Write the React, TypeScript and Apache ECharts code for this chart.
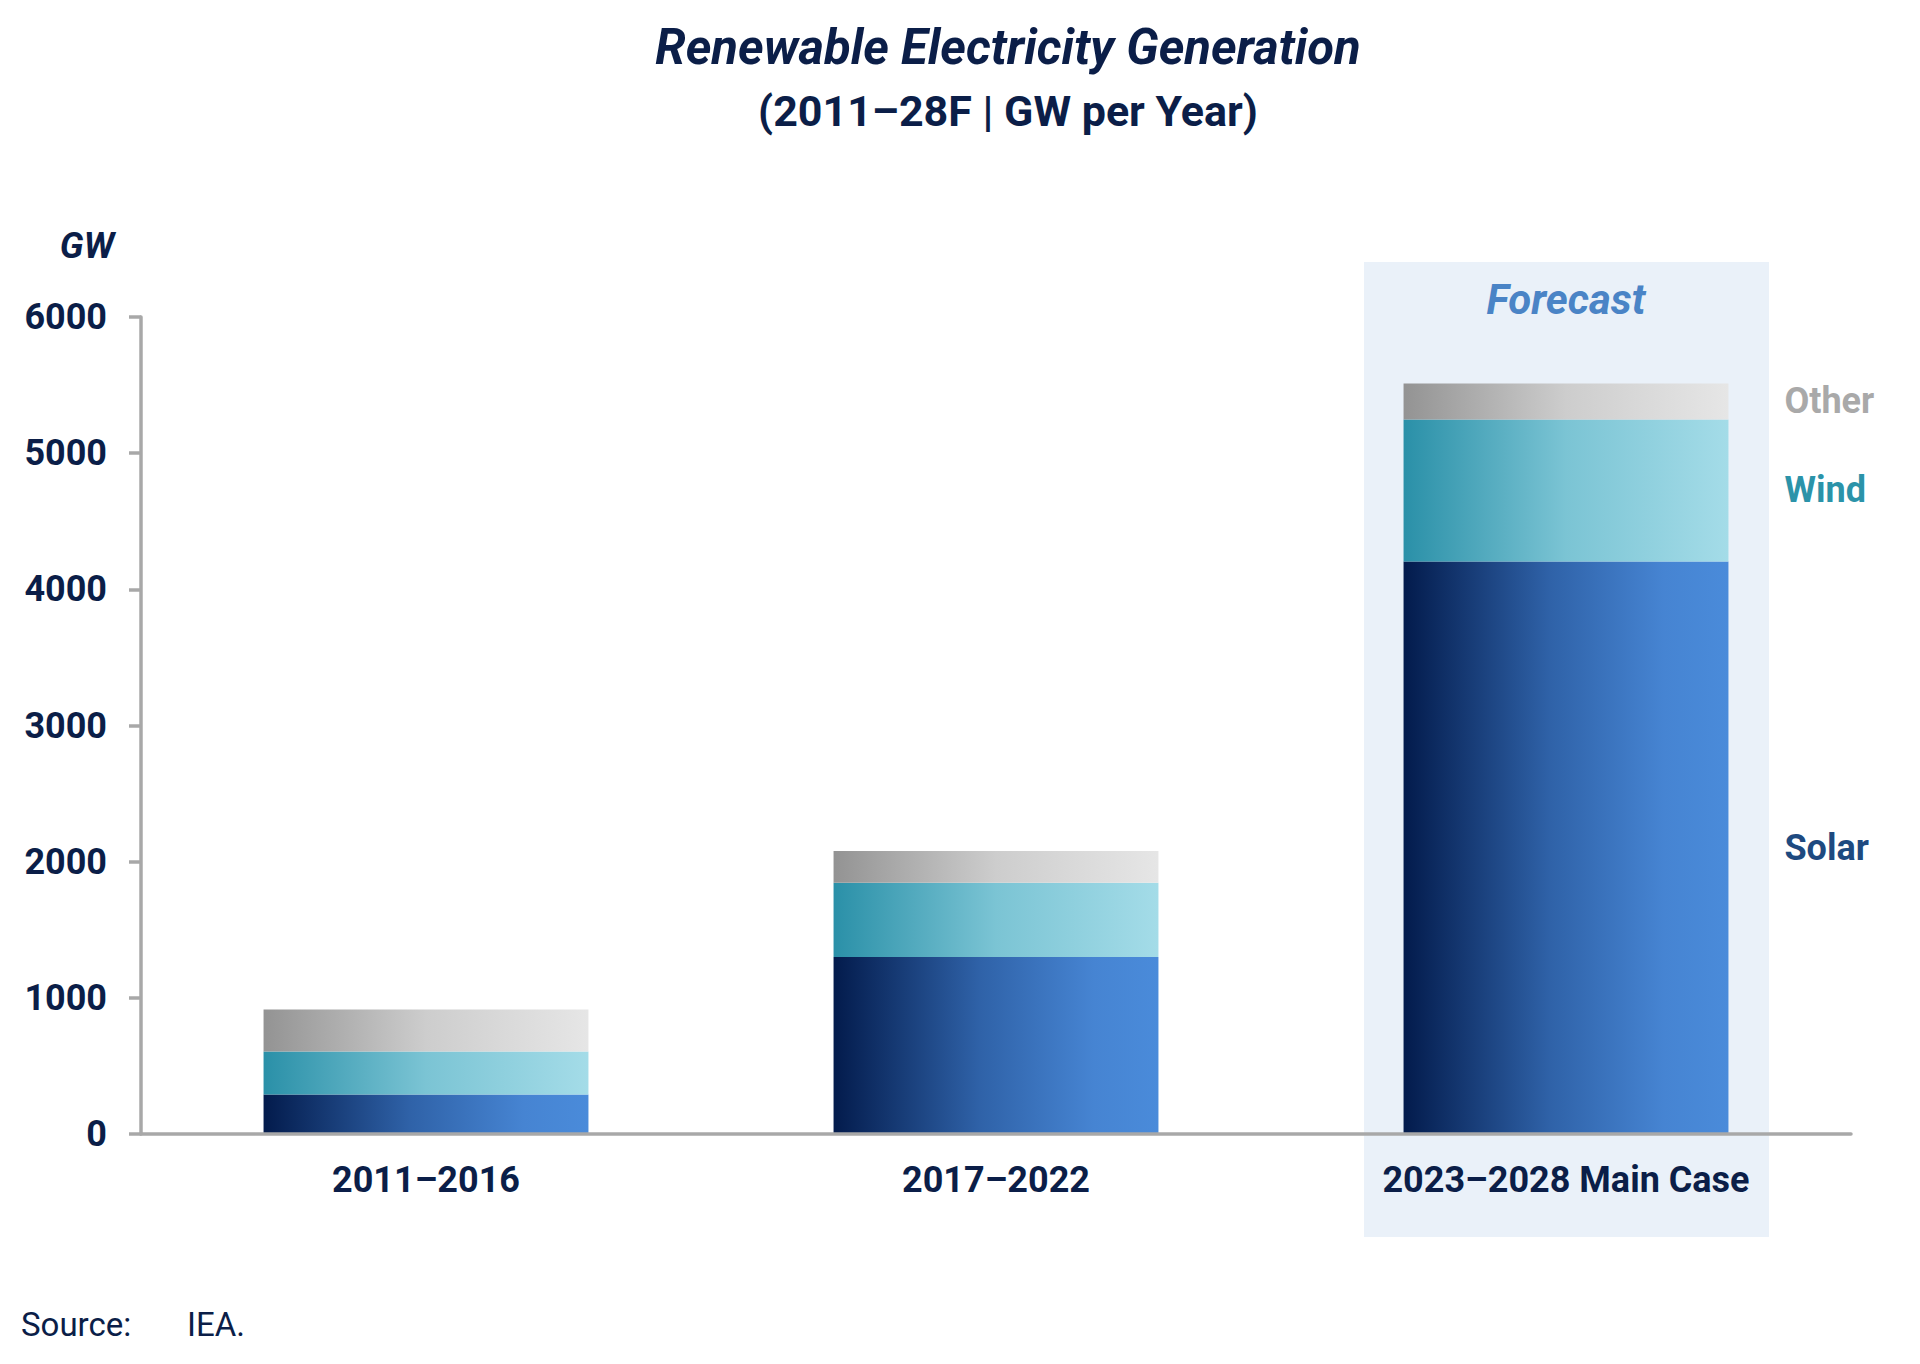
import React, { useEffect, useRef } from "react";
import * as echarts from "echarts";

const categories = ["2011–2016", "2017–2022", "2023–2028 Main Case"];
const solarValues = [290, 1300, 4205];
const windValues = [315, 545, 1042];
const otherValues = [310, 233, 265];
const yTicks = { min: 0, max: 6000, interval: 1000 };

const NAVY = "#0B1E48";
const FONT = "Roboto, 'Noto Sans', sans-serif";
const AXIS_GRAY = "#A8A8A8";

function grad(stops: [number, string][]) {
  return new echarts.graphic.LinearGradient(
    0, 0, 1, 0,
    stops.map(([offset, color]) => ({ offset, color }))
  );
}

export default function App() {
  const ref = useRef<HTMLDivElement>(null);

  useEffect(() => {
    if (!ref.current) return;
    const chart = echarts.init(ref.current, undefined, { renderer: "svg" });
    const last = categories.length - 1;

    const mk = (vals: number[], name: string, color: string) =>
      vals.map((v, i) =>
        i === last
          ? {
              value: v,
              label: {
                show: true,
                position: "right",
                distance: 56,
                formatter: name,
                color,
                fontFamily: FONT,
                fontWeight: "bold",
                fontSize: 36,
              },
            }
          : v
      );

    chart.setOption({
      animation: false,
      backgroundColor: "#ffffff",
      grid: { left: 141, right: 69, top: 317, bottom: 230, containLabel: false },
      xAxis: {
        type: "category",
        data: categories,
        axisLine: { show: true, lineStyle: { color: AXIS_GRAY, width: 3.5 } },
        axisTick: { show: false },
        axisLabel: {
          color: NAVY,
          fontFamily: FONT,
          fontWeight: "bold",
          fontSize: 36,
          margin: 28,
        },
        z: 5,
      },
      yAxis: {
        type: "value",
        min: yTicks.min,
        max: yTicks.max,
        interval: yTicks.interval,
        axisLine: { show: true, lineStyle: { color: AXIS_GRAY, width: 3.5 } },
        axisTick: { show: true, length: 12, lineStyle: { color: AXIS_GRAY, width: 3.5 } },
        splitLine: { show: false },
        axisLabel: {
          color: NAVY,
          fontFamily: FONT,
          fontWeight: "bold",
          fontSize: 36,
          margin: 34,
          formatter: (v: number) => String(v),
        },
      },
      series: [
        {
          name: "Solar",
          type: "bar",
          stack: "total",
          barWidth: "57%",
          data: mk(solarValues, "Solar", "#1E4A80"),
          itemStyle: {
            color: grad([
              [0, "#031B4C"],
              [0.45, "#2F62A8"],
              [0.8, "#4684D2"],
              [1, "#4A8BDA"],
            ]),
          },
        },
        {
          name: "Wind",
          type: "bar",
          stack: "total",
          data: mk(windValues, "Wind", "#2B93A9"),
          itemStyle: {
            color: grad([
              [0, "#2A90A8"],
              [0.5, "#7BC4D4"],
              [1, "#A4DCE8"],
            ]),
          },
        },
        {
          name: "Other",
          type: "bar",
          stack: "total",
          data: mk(otherValues, "Other", "#A9A9A9"),
          itemStyle: {
            color: grad([
              [0, "#939393"],
              [0.5, "#CDCDCD"],
              [1, "#E6E6E6"],
            ]),
          },
        },
      ],
    });

    const cx = chart.convertToPixel({ xAxisIndex: 0 }, categories[last]) as number;

    chart.setOption({
      graphic: [
        {
          type: "rect",
          z: -10,
          silent: true,
          shape: { x: cx - 202, y: 262, width: 405, height: 975 },
          style: { fill: "#EAF1F9" },
        },
        {
          type: "text",
          x: cx,
          y: 299,
          style: {
            text: "Forecast",
            fill: "#4A84C6",
            font: `italic bold 42px ${FONT}`,
            textAlign: "center",
            textVerticalAlign: "middle",
          },
        },
        {
          type: "text",
          x: 1008,
          y: 47,
          style: {
            text: "Renewable Electricity Generation",
            fill: NAVY,
            font: `italic bold 49px ${FONT}`,
            textAlign: "center",
            textVerticalAlign: "middle",
          },
        },
        {
          type: "text",
          x: 1008,
          y: 111,
          style: {
            text: "(2011–28F | GW per Year)",
            fill: NAVY,
            font: `bold 43px ${FONT}`,
            textAlign: "center",
            textVerticalAlign: "middle",
          },
        },
        {
          type: "text",
          x: 87,
          y: 246,
          style: {
            text: "GW",
            fill: NAVY,
            font: `italic bold 36px ${FONT}`,
            textAlign: "center",
            textVerticalAlign: "middle",
          },
        },
        {
          type: "text",
          x: 21,
          y: 1324,
          style: {
            text: "Source:",
            fill: NAVY,
            font: `33px ${FONT}`,
            textAlign: "left",
            textVerticalAlign: "middle",
          },
        },
        {
          type: "text",
          x: 187,
          y: 1324,
          style: {
            text: "IEA.",
            fill: NAVY,
            font: `33px ${FONT}`,
            textAlign: "left",
            textVerticalAlign: "middle",
          },
        },
      ],
    });

    return () => chart.dispose();
  }, []);

  return (
    <div
      ref={ref}
      style={{ position: "absolute", left: 0, top: 0, width: 1920, height: 1364 }}
    />
  );
}
